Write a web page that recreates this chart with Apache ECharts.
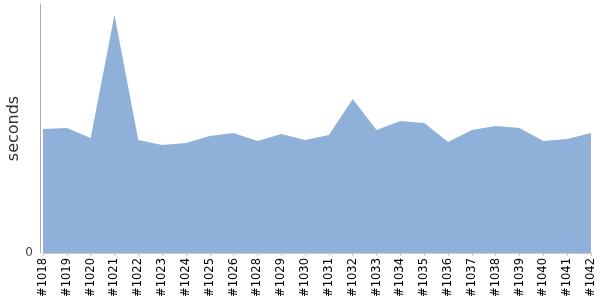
<!DOCTYPE html>
<html><head><meta charset="utf-8">
<script src="https://cdn.jsdelivr.net/npm/echarts@6/dist/echarts.min.js"></script>
<style>html,body{margin:0;padding:0;background:#fff}#c{width:600px;height:300px}</style>
</head><body><div id="c"></div>
<script>
var builds = ['#1018','#1019','#1020','#1021','#1022','#1023','#1024','#1025','#1026','#1028','#1029','#1030','#1031','#1032','#1033','#1034','#1035','#1036','#1037','#1038','#1039','#1040','#1041','#1042'];
var durations = [124,125,115,238,113,108,110,117,120,112,119,113,118,154,123,132,130,111,123,127,125,112,114,120];
var yMax = 249;

var chart = echarts.init(document.getElementById('c'), null, {renderer:'canvas'});
chart.setOption({
  animation:false,
  grid:{left:43,right:9,top:4,bottom:47,containLabel:false,outerBoundsMode:'none'},
  xAxis:{
    type:'category', data:builds, boundaryGap:false,
    axisLine:{show:true,lineStyle:{color:'#c8c8c8',width:1}},
    axisTick:{show:true,length:3,lineStyle:{color:'#c8c8c8'}},
    axisLabel:{rotate:90,interval:0,fontSize:11.5,color:'#000',fontFamily:'DejaVu Sans',margin:5,hideOverlap:false}
  },
  yAxis:{
    type:'value', min:0, max:yMax, interval:yMax, offset:3,
    name:'seconds', nameLocation:'middle', nameGap:18, nameMoveOverlap:false,
    nameTextStyle:{fontSize:16,color:'#333',fontFamily:'DejaVu Sans'},
    axisLine:{show:true,lineStyle:{color:'#b0b0b0',width:1}},
    axisTick:{show:false},
    splitLine:{show:false},
    axisLabel:{fontSize:12,color:'#444',fontFamily:'DejaVu Sans',margin:7,
      formatter:function(v){return v===0?'0':'';}}
  },
  series:[{
    type:'line', data:durations, symbol:'none',
    lineStyle:{width:0,color:'#8fb1d9'},
    areaStyle:{color:'#8fb1d9',opacity:1}
  }]
});
</script></body></html>
